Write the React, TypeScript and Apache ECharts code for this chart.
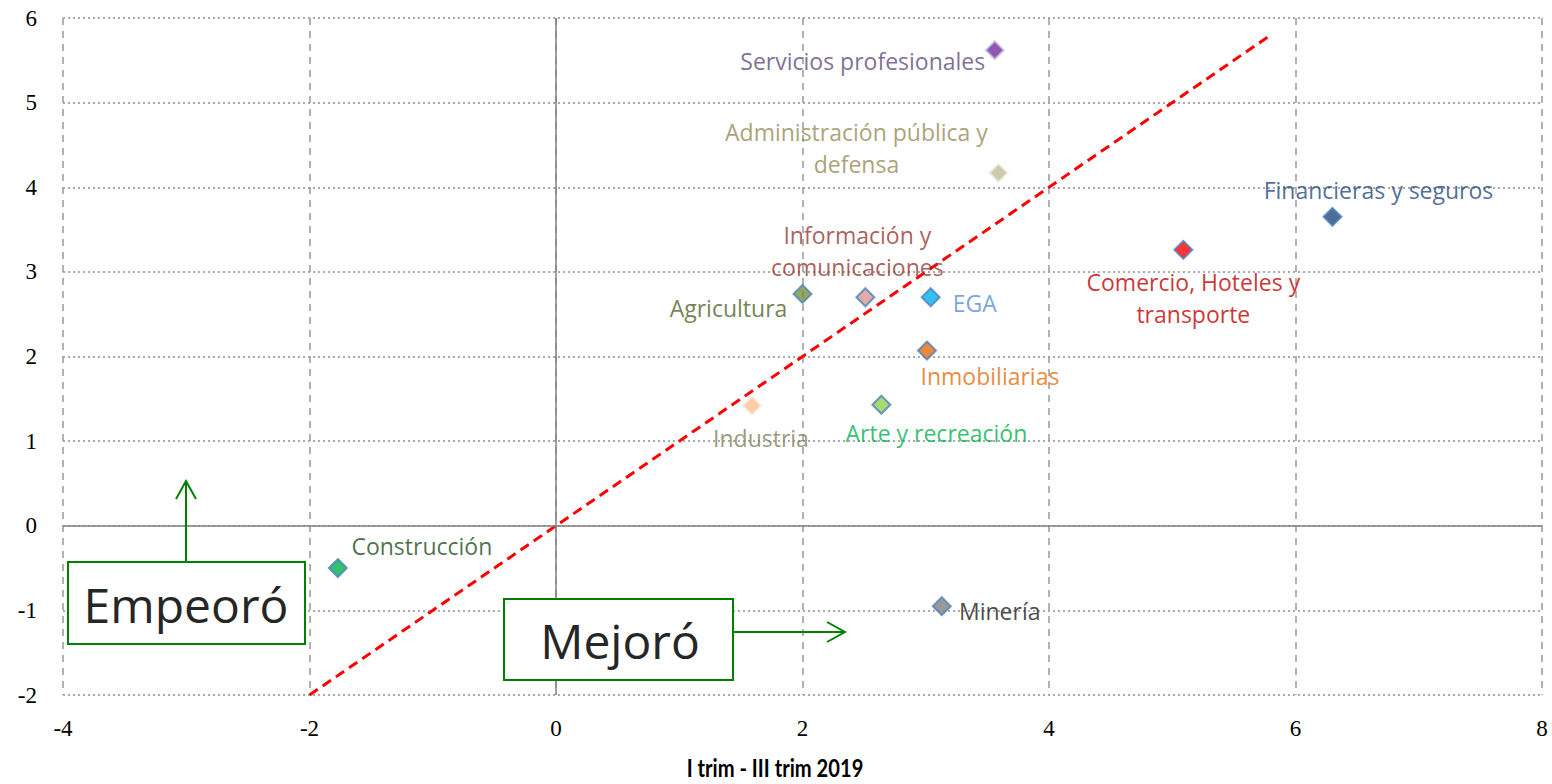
import React, { useEffect, useRef } from "react";
import * as echarts from "echarts";

// ---------- data ----------
const sectors = [
  "Servicios profesionales",
  "Administración pública y\ndefensa",
  "Financieras y seguros",
  "Comercio, Hoteles y\ntransporte",
  "Agricultura",
  "Información y\ncomunicaciones",
  "EGA",
  "Inmobiliarias",
  "Industria",
  "Arte y recreación",
  "Construcción",
  "Minería",
];
const xValues = [3.56, 3.59, 6.3, 5.09, 2.0, 2.51, 3.04, 3.01, 1.59, 2.64, -1.77, 3.13];
const yValues = [5.62, 4.17, 3.65, 3.26, 2.74, 2.7, 2.7, 2.07, 1.42, 1.43, -0.5, -0.95];
const diagonal = [
  [-2, -2],
  [5.8, 5.8],
];
const xTicks = [-4, -2, 0, 2, 4, 6, 8];
const yTicks = [-2, -1, 0, 1, 2, 3, 4, 5, 6];
const xTitle = "I trim - III trim 2019";
const worseLabel = "Empeoró";
const betterLabel = "Mejoró";

// ---------- styles ----------
const fills = ["#7030a0", "#c4bd97", "#1f497d", "#ff0000", "#76923c", "#d99694", "#00b0f0", "#e46c0a", "#fac090", "#92d050", "#00b050", "#7f7f7f"];
const borders = ["#ccc0da", "#eeece1", "#4f81bd", "#4f81bd", "#4f81bd", "#4f81bd", "#4f81bd", "#4f81bd", "#fde9d9", "#4f81bd", "#4f81bd", "#4f81bd"];
const labelColors = ["#604a7b", "#948a54", "#1f497d", "#c00000", "#4f6228", "#953735", "#558ed5", "#e46c0a", "#7f7f5a", "#00b050", "#1e4d1e", "#1a1a1a"];
const labelOffsets = [
  [-132, 11],
  [-142, -25],
  [46, -27],
  [10, 48],
  [-74, 14],
  [-8, -46],
  [44, 6],
  [63, 25],
  [9, 32],
  [55, 28],
  [84, -22],
  [58, 5],
];

const GREEN = "#008000";
const tickFont = { fontSize: 23, color: "#000", fontFamily: "Liberation Serif" };

export default function App() {
  const ref = useRef<HTMLDivElement>(null);
  useEffect(() => {
    if (!ref.current) return;
    const chart = echarts.init(ref.current, undefined, { renderer: "svg" });
    const data = sectors.map((name, i) => ({
      name,
      value: [xValues[i], yValues[i]],
      itemStyle: { color: fills[i], borderColor: borders[i], borderWidth: 2 },
      label: {
        show: true,
        formatter: name,
        position: "inside",
        offset: labelOffsets[i],
        align: "center",
        verticalAlign: "middle",
        color: labelColors[i],
        fontSize: 23,
        lineHeight: 32,
        fontFamily: "Open Sans",
      },
    }));
    chart.setOption({
      animation: false,
      textStyle: { fontFamily: "Liberation Serif", fontSize: 23 },
      grid: { left: 63, right: 10, top: 18, bottom: 89, containLabel: false },
      xAxis: {
        type: "value",
        min: xTicks[0],
        max: xTicks[xTicks.length - 1],
        interval: 2,
        axisLine: { show: false },
        axisTick: { show: false },
        axisLabel: {
          margin: 22,
          formatter: (v: number) => "{t|" + v + "}",
          rich: { t: tickFont },
          ...tickFont,
        },
        splitLine: { show: true, lineStyle: { color: "#999", width: 1.5, type: [7, 6] } },
      },
      yAxis: {
        type: "value",
        min: yTicks[0],
        max: yTicks[yTicks.length - 1],
        interval: 1,
        axisLine: { show: false },
        axisTick: { show: false },
        axisLabel: {
          margin: 26,
          formatter: (v: number) => "{t|" + v + "}",
          rich: { t: tickFont },
          ...tickFont,
        },
        splitLine: { show: true, lineStyle: { color: "#aaa", width: 2, type: [2, 3] } },
      },
      series: [
        {
          type: "line",
          data: diagonal,
          symbol: "none",
          silent: true,
          lineStyle: { color: "#ff0000", width: 3, type: [10, 6] },
          z: 3,
          markLine: {
            silent: true,
            symbol: "none",
            label: { show: false },
            lineStyle: { color: "#808080", width: 1.5, type: "solid" },
            data: [{ xAxis: 0 }, { yAxis: 0 }],
          },
        },
        {
          type: "scatter",
          symbol: "diamond",
          symbolSize: 18,
          data,
          z: 5,
        },
      ],
      graphic: [
        {
          type: "line",
          shape: { x1: 186, y1: 562, x2: 186, y2: 481 },
          style: { stroke: GREEN, lineWidth: 2 },
          z: 10,
        },
        {
          type: "polyline",
          shape: { points: [[176, 499], [186, 481], [196, 499]] },
          style: { stroke: GREEN, lineWidth: 2, fill: null },
          z: 10,
        },
        {
          type: "rect",
          shape: { x: 68, y: 562, width: 237, height: 82 },
          style: { fill: "#fff", stroke: GREEN, lineWidth: 2 },
          z: 10,
        },
        {
          type: "text",
          x: 186,
          y: 604,
          style: {
            text: worseLabel,
            fontSize: 48,
            fontFamily: "Open Sans",
            fill: "#262626",
            align: "center",
            verticalAlign: "middle",
          },
          z: 11,
        },
        {
          type: "line",
          shape: { x1: 733, y1: 632, x2: 845, y2: 632 },
          style: { stroke: GREEN, lineWidth: 2 },
          z: 10,
        },
        {
          type: "polyline",
          shape: { points: [[827, 622], [845, 632], [827, 642]] },
          style: { stroke: GREEN, lineWidth: 2, fill: null },
          z: 10,
        },
        {
          type: "rect",
          shape: { x: 504, y: 599, width: 229, height: 81 },
          style: { fill: "#fff", stroke: GREEN, lineWidth: 2 },
          z: 10,
        },
        {
          type: "text",
          x: 620,
          y: 640,
          style: {
            text: betterLabel,
            fontSize: 48,
            fontFamily: "Open Sans",
            fill: "#262626",
            align: "center",
            verticalAlign: "middle",
          },
          z: 11,
        },
        {
          type: "text",
          x: 775,
          y: 768,
          scaleX: 0.84,
          originX: 0,
          style: {
            text: xTitle,
            fontSize: 24,
            fontWeight: "bold",
            fontFamily: "Lato",
            fill: "#000",
            align: "center",
            verticalAlign: "middle",
          },
          z: 11,
        },
      ],
    });
    return () => chart.dispose();
  }, []);
  return <div ref={ref} style={{ width: 1552, height: 784, position: "absolute", left: 0, top: 0 }} />;
}
